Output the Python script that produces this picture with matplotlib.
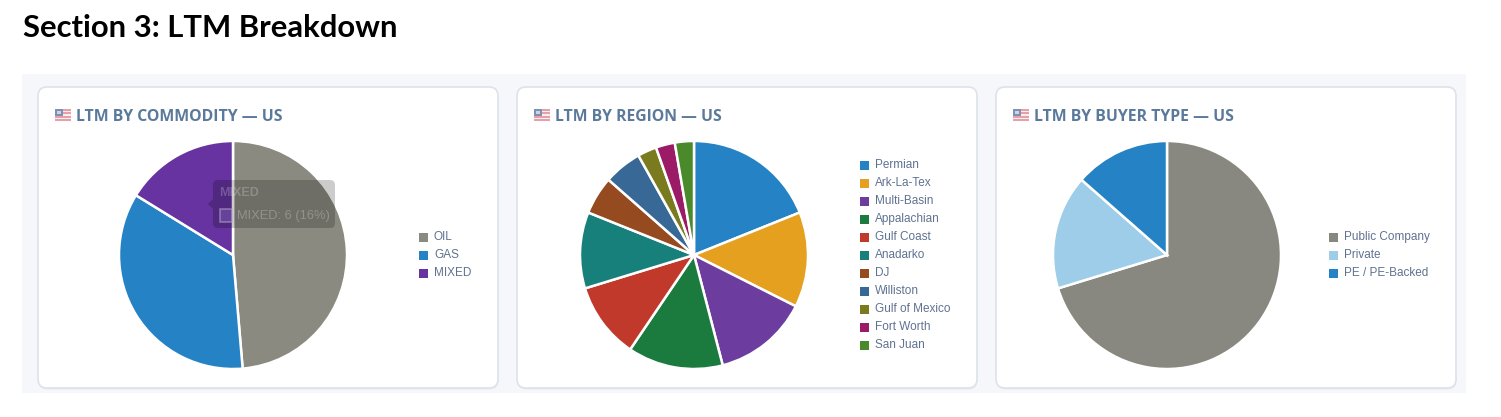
import matplotlib
matplotlib.use("Agg")
import matplotlib.pyplot as plt
from matplotlib.patches import FancyBboxPatch, Rectangle, Polygon

# ---------------- data ----------------
commodity_labels = ["OIL", "GAS", "MIXED"]
commodity_values = [18, 13, 6]
commodity_colors = ["#8a8a80", "#2582c4", "#6633a0"]

region_labels = ["Permian", "Ark-La-Tex", "Multi-Basin", "Appalachian", "Gulf Coast",
                 "Anadarko", "DJ", "Williston", "Gulf of Mexico", "Fort Worth", "San Juan"]
region_values = [7, 5, 5, 5, 4, 4, 2, 2, 1, 1, 1]
region_colors = ["#2582c4", "#e6a020", "#6c3d9e", "#1b7a3e", "#c0392b", "#17807a",
                 "#954a20", "#386896", "#7a7a1e", "#9c1b66", "#4a8a2a"]

buyer_labels = ["Public Company", "Private", "PE / PE-Backed"]
buyer_values = [26, 6, 5]
buyer_colors = ["#888880", "#9dcde8", "#2582c4"]

section_title = "Section 3: LTM Breakdown"
card_titles = ["LTM BY COMMODITY — US", "LTM BY REGION — US", "LTM BY BUYER TYPE — US"]
tooltip_title = "MIXED"
tooltip_body = "MIXED: 6 (16%)"

# ---------------- layout ----------------
W, H = 1501, 417
DPI = 100
fig = plt.figure(figsize=(W / DPI, H / DPI), dpi=DPI)
fig.patch.set_facecolor("white")

bg = fig.add_axes([0, 0, 1, 1], zorder=0)
bg.set_xlim(0, W)
bg.set_ylim(H, 0)
bg.axis("off")

def fit_text(ax, x, y, s, target_w, base_size, **kw):
    t = ax.text(x, y, s, fontsize=base_size, **kw)
    fig.canvas.draw()
    bb = t.get_window_extent(renderer=fig.canvas.get_renderer())
    if bb.width > 0:
        t.set_fontsize(base_size * target_w / bb.width)
    return t

# Section title
fit_text(bg, 23, 37, section_title, 374, 22, family="Lato", fontweight="bold",
         color="black", va="baseline", ha="left")

# light panel background
bg.add_patch(Rectangle((22, 74), 1444, 319, facecolor="#f5f7fb", edgecolor="none"))

card_lefts = [38, 517, 996]
card_top, card_w, card_h = 87, 460, 301
for i, cl in enumerate(card_lefts):
    # faint shadow
    bg.add_patch(FancyBboxPatch((cl + 0.5, card_top + 1.5), card_w, card_h,
                                boxstyle="round,pad=0,rounding_size=9",
                                facecolor="#e6ebf1", edgecolor="none"))
    bg.add_patch(FancyBboxPatch((cl, card_top), card_w, card_h,
                                boxstyle="round,pad=0,rounding_size=9",
                                facecolor="white", edgecolor="#dde3eb", linewidth=1.2))
    # flag icon
    fx, fy, fw, fh = cl + 17, 109, 16, 12
    for k in range(7):
        col = "#e6a0a9" if k % 2 == 0 else "#f6eef0"
        bg.add_patch(Rectangle((fx, fy + k * fh / 7), fw, fh / 7, facecolor=col,
                               edgecolor="none"))
    bg.add_patch(Rectangle((fx, fy), 7.5, 6.5, facecolor="#8090b0", edgecolor="none"))
    bg.add_patch(Rectangle((fx + 1.5, fy + 1.5), 4.5, 3.5, facecolor="#ccd3e2",
                           edgecolor="none"))
    title_w = [208, 167, 200][i]
    fit_text(bg, cl + 38, 120.5, card_titles[i], title_w, 11, family="Open Sans",
             fontweight="bold", color="#5b7a9b", va="baseline", ha="left")

# ---------------- pies ----------------
def add_pie(cx, cy, r, values, colors):
    ax = fig.add_axes([(cx - r) / W, 1 - (cy + r) / H, 2 * r / W, 2 * r / H], zorder=2)
    ax.pie(values, colors=colors, startangle=90, counterclock=False, radius=1,
           wedgeprops=dict(edgecolor="white", linewidth=1.8))
    ax.set_xlim(-1.0, 1.0)
    ax.set_ylim(-1.0, 1.0)
    ax.set_aspect("equal")
    ax.axis("off")
    return ax

R = 114
add_pie(233, 255, R, commodity_values, commodity_colors)
add_pie(694, 255, R, region_values, region_colors)
add_pie(1167, 255, R, buyer_values, buyer_colors)

# ---------------- legends ----------------
def add_legend(x, y0, labels, colors, step=18):
    for k, (lab, col) in enumerate(zip(labels, colors)):
        y = y0 + k * step
        bg.add_patch(Rectangle((x, y - 4.5), 9, 9, facecolor=col, edgecolor="none"))
        bg.text(x + 15, y, lab, fontsize=8.5, family="Liberation Sans",
                color="#5f7290", va="center", ha="left")

add_legend(419, 237, commodity_labels, commodity_colors)
add_legend(860, 165, region_labels, region_colors)
add_legend(1329, 237, buyer_labels, buyer_colors)

# ---------------- tooltip (top overlay) ----------------
top = fig.add_axes([0, 0, 1, 1], zorder=5)
top.set_xlim(0, W)
top.set_ylim(H, 0)
top.axis("off")
top.patch.set_alpha(0)
top.add_patch(FancyBboxPatch((213, 180), 122, 48, boxstyle="round,pad=0,rounding_size=5",
                             facecolor="black", alpha=0.2, edgecolor="none"))
top.add_patch(Polygon([(213, 199), (208, 204), (213, 209)], closed=True,
                      facecolor="black", alpha=0.2, edgecolor="none"))
top.text(219, 193, tooltip_title, fontsize=9.0, fontweight="bold", family="Liberation Sans",
         color="white", alpha=0.22, va="center", ha="left")
top.add_patch(Rectangle((219.5, 209), 12.5, 12.5, facecolor="#7a58b0", alpha=0.55,
                        edgecolor="#b7a9cc", linewidth=1.2))
top.text(237, 215.5, tooltip_body, fontsize=9.3, family="Liberation Sans",
         color="white", alpha=0.25, va="center", ha="left")

fig.savefig("out.png", dpi=DPI, facecolor="white")
